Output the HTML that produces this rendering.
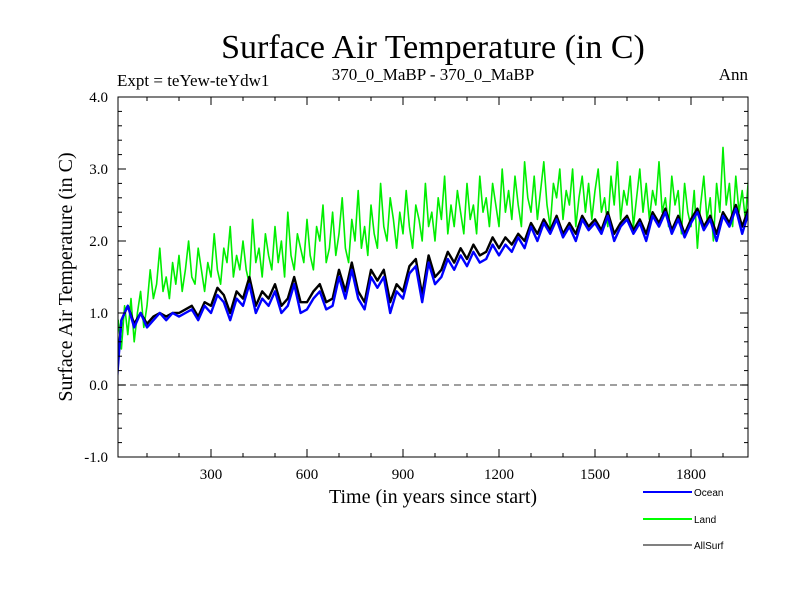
<!DOCTYPE html>
<html><head><meta charset="utf-8"><style>
body{margin:0;background:#fff;width:800px;height:600px;overflow:hidden}
svg{display:block}
text{font-family:"Liberation Serif",serif;fill:#000}
</style></head><body>
<svg id="chart" width="800" height="600">
<text x="433" y="58" font-size="34" text-anchor="middle">Surface Air Temperature (in C)</text>
<text x="117" y="86" font-size="17">Expt = teYew-teYdw1</text>
<text x="433" y="80" font-size="17" text-anchor="middle">370_0_MaBP - 370_0_MaBP</text>
<text x="748" y="80" font-size="17" text-anchor="end">Ann</text>
<text transform="translate(72,277) rotate(-90)" font-size="20" text-anchor="middle">Surface Air Temperature (in C)</text>
<text x="433" y="503" font-size="20" text-anchor="middle">Time (in years since start)</text>
<defs><clipPath id="pc"><rect x="118" y="97" width="630" height="360"/></clipPath></defs>
<g id="marks" clip-path="url(#pc)"></g>
<g id="axes"></g>
<g>
<line x1="643" y1="492" x2="692" y2="492" stroke="#0000ff" stroke-width="2"/>
<text x="694" y="496" font-size="10" style="font-family:'Liberation Sans',sans-serif">Ocean</text>
<line x1="643" y1="519" x2="692" y2="519" stroke="#00ff00" stroke-width="2"/>
<text x="694" y="523" font-size="10" style="font-family:'Liberation Sans',sans-serif">Land</text>
<line x1="643" y1="545" x2="692" y2="545" stroke="#000" stroke-width="1"/>
<text x="694" y="549" font-size="10" style="font-family:'Liberation Sans',sans-serif">AllSurf</text>
</g>
</svg>
<script>
const oceanStep = 20;
const landStep = 10;
const ocean = [-0.3,0.9,1.1,0.8,1.0,0.8,0.9,1.0,0.9,1.0,0.95,1.0,1.05,0.9,1.1,1.0,1.25,1.15,0.9,1.2,1.1,1.4,1.0,1.2,1.1,1.3,1.0,1.1,1.4,1.0,1.05,1.2,1.3,1.05,1.1,1.5,1.2,1.6,1.2,1.05,1.5,1.35,1.5,1.0,1.3,1.2,1.55,1.65,1.15,1.7,1.4,1.5,1.75,1.6,1.8,1.65,1.85,1.7,1.75,1.95,1.8,1.95,1.85,2.05,1.9,2.2,2.0,2.25,2.1,2.3,2.05,2.2,2.0,2.3,2.15,2.25,2.1,2.35,2.0,2.2,2.3,2.1,2.25,2.0,2.35,2.2,2.4,2.1,2.3,2.05,2.25,2.4,2.15,2.3,2.0,2.35,2.2,2.45,2.1,2.4];
const land = [0.2,0.9,0.5,1.1,0.7,1.2,0.6,1.0,1.3,0.8,
1.1,1.6,1.2,1.4,1.9,1.3,1.5,1.2,1.7,1.4,
1.8,1.3,1.6,2.0,1.5,1.4,1.9,1.6,1.3,1.7,
1.5,2.1,1.6,1.4,1.9,1.7,2.2,1.5,1.8,1.6,
2.0,1.6,1.4,2.3,1.7,1.9,1.5,2.1,1.8,1.6,
2.2,1.7,2.0,1.5,2.4,1.8,1.6,2.1,1.9,1.7,
2.3,1.8,1.6,2.2,2.0,2.5,1.7,1.9,2.4,1.8,
2.1,2.6,1.9,1.7,2.3,2.0,2.7,1.9,2.2,1.8,
2.5,2.1,1.9,2.8,2.2,2.0,2.6,2.3,1.9,2.4,
2.1,2.7,2.2,1.9,2.5,2.3,2.0,2.8,2.2,2.4,
2.0,2.6,2.3,2.9,2.1,2.5,2.2,2.7,2.4,2.1,
2.8,2.3,2.5,2.1,2.9,2.4,2.6,2.2,2.8,2.5,
2.2,3.0,2.4,2.7,2.3,2.9,2.5,2.2,3.1,2.6,
2.4,2.9,2.3,2.7,3.1,2.5,2.2,2.8,2.6,3.0,
2.3,2.7,2.5,3.0,2.2,2.6,2.9,2.4,2.8,2.3,
2.7,3.0,2.4,2.6,2.2,2.9,2.5,3.1,2.3,2.7,
2.5,2.9,2.2,2.6,3.0,2.4,2.8,2.3,2.7,2.5,
3.1,2.4,2.6,2.2,2.9,2.5,2.7,2.1,2.8,2.4,
2.2,2.7,1.9,2.5,2.9,2.3,2.6,2.0,2.8,2.4,
3.3,2.5,2.8,2.2,2.9,2.4,2.7,2.3,2.9,2.6];
const allSurf = [-0.2,0.9,1.1,0.85,1.0,0.85,0.95,1.0,0.95,1.0,1.0,1.05,1.1,0.95,1.15,1.1,1.35,1.25,1.0,1.3,1.2,1.5,1.1,1.3,1.2,1.4,1.1,1.2,1.5,1.15,1.15,1.3,1.4,1.15,1.2,1.6,1.3,1.7,1.3,1.15,1.6,1.45,1.6,1.15,1.4,1.3,1.65,1.75,1.25,1.8,1.5,1.6,1.85,1.7,1.9,1.75,1.95,1.8,1.85,2.05,1.9,2.05,1.95,2.1,2.0,2.25,2.1,2.3,2.15,2.35,2.1,2.25,2.1,2.35,2.2,2.3,2.15,2.4,2.1,2.25,2.35,2.15,2.3,2.1,2.4,2.25,2.45,2.15,2.35,2.1,2.3,2.45,2.2,2.35,2.1,2.4,2.25,2.5,2.2,2.45];
const yTicks = [-1.0,0.0,1.0,2.0,3.0,4.0];
const yTickLabels = ["-1.0","0.0","1.0","2.0","3.0","4.0"];
const xTicks = [300,600,900,1200,1500,1800];
const xTickLabels = ["300","600","900","1200","1500","1800"];

const L=118,R=748,T=97,B=457;
const X = yr => 115 + yr*0.32;
const Y = v => 385 - v*72;
const NS="http://www.w3.org/2000/svg";
const marks=document.getElementById('marks'), axes=document.getElementById('axes');
function mk(tag,attrs,parent){const e=document.createElementNS(NS,tag);for(const k in attrs)e.setAttribute(k,attrs[k]);parent.appendChild(e);return e;}

const zero=mk('line',{x1:L,x2:R,y1:Y(0),y2:Y(0),stroke:'#666','stroke-width':1.2,'stroke-dasharray':'7,5'},marks);



function series(vals,step,color,w,name){
  const d=vals.map((v,i)=>(i?'L':'M')+X(i*step).toFixed(1)+','+Y(v).toFixed(1)).join('');
  const p=mk('path',{d:d,fill:'none',stroke:color,'stroke-width':w,'stroke-linejoin':'round'},marks);
  
  
}
series(land,landStep,'#00ee00',1.6,'land-series');
series(allSurf,oceanStep,'#000000',2.4,'allsurf-series');
series(ocean,oceanStep,'#0000ff',2.4,'ocean-series');

const frame=mk('rect',{x:L,y:T,width:R-L,height:B-T,fill:'none',stroke:'#000','stroke-width':1},axes);



for(let v=-1.0;v<=4.001;v+=0.2){
  const major=Math.abs(v-Math.round(v))<1e-6, len=major?8:4;
  mk('line',{x1:L,x2:L+len,y1:Y(v),y2:Y(v),stroke:'#000'},axes);
  mk('line',{x1:R,x2:R-len,y1:Y(v),y2:Y(v),stroke:'#000'},axes);
}
yTicks.forEach((v,i)=>{
  const t=mk('text',{x:108,y:Y(v)+5,'font-size':15,'text-anchor':'end'},axes);
  t.textContent=yTickLabels[i];
  
  
});
for(let yr=100;yr<=1900;yr+=100){
  const major=yr%300===0, len=major?8:4;
  mk('line',{x1:X(yr),x2:X(yr),y1:B,y2:B-len,stroke:'#000'},axes);
  mk('line',{x1:X(yr),x2:X(yr),y1:T,y2:T+len,stroke:'#000'},axes);
}
xTicks.forEach((v,i)=>{
  const t=mk('text',{x:X(v),y:479,'font-size':15,'text-anchor':'middle'},axes);
  t.textContent=xTickLabels[i];
  
  
});
</script>
</body></html>
